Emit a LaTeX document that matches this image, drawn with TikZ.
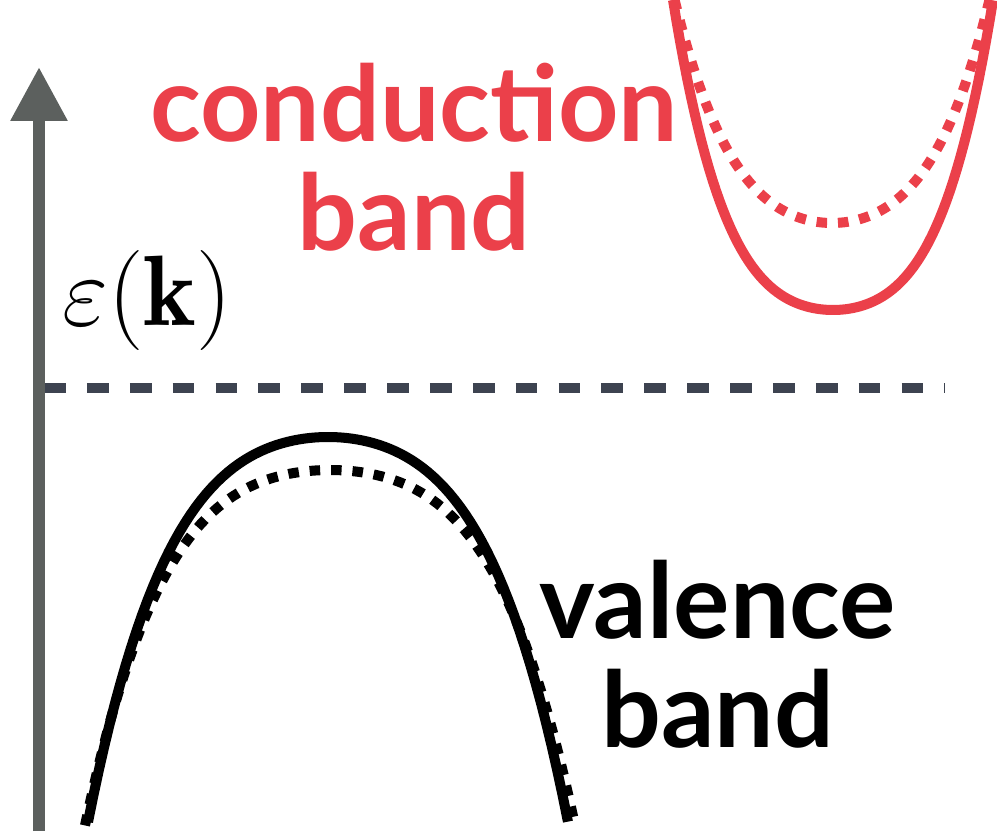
\documentclass[tikz,border=0pt]{standalone}
\usepackage{amsmath,amssymb,bm}
\usepackage{fontspec}
\usepackage{tikz}
\usetikzlibrary{arrows.meta}
\newfontfamily\labelfont{Lato}
\definecolor{BandRed}{RGB}{235,64,74}
\definecolor{AxisGray}{RGB}{92,96,94}
\definecolor{LevelSlate}{RGB}{61,67,80}
\tikzset{
    axisline/.style={line width=3.5pt,AxisGray,-{Triangle[length=5.4mm,width=5.4mm]}},
    levelline/.style={line width=2.85pt,LevelSlate,dash pattern=on 6.2pt off 6pt},
    condsolid/.style={line width=2.85pt,BandRed},
    conddots/.style={line width=2.85pt,BandRed,dash pattern=on 3.0pt off 3.1pt},
    valsolid/.style={line width=2.85pt,black},
    valdots/.style={line width=2.85pt,black,dash pattern=on 3.0pt off 3.1pt},
    bandlabel/.style={font=\labelfont\bfseries\fontsize{30}{31}\selectfont,align=center,inner sep=0pt}
}
\begin{document}
\begin{tikzpicture}
		\useasboundingbox (0,0) rectangle (9.97,8.31);
		% energy axis and gap level
		\coordinate (axbot) at (0.39,0);
		\coordinate (axtop) at (0.39,7.64);
		\coordinate (levl) at (0.44,4.43);
		\coordinate (levr) at (9.45,4.43);
		\draw[levelline] (levl) -- (levr);
		\draw[axisline] (axbot) -- (axtop);
		\node[font=\fontsize{24.88}{30}\selectfont,scale=1.145] (eps) at (1.47,5.31) {$\varepsilon(\mathbf{k})$};
		% conduction band
		\draw[conddots] plot[domain=-1.575:1.575,samples=90] ({8.32+\x},{6.08+0.485*(\x)^2+0.1676*(\x)^4});
		\draw[condsolid] plot[domain=-1.60:1.60,samples=90] ({8.33+\x},{5.21+0.482*(\x)^2+0.2846*(\x)^4});
		\node[bandlabel,BandRed] (cond) at (4.14,6.74) {conduction\\band};
		% valence band
		\draw[valdots] plot[domain=-2.45:2.45,samples=90] ({3.30+\x},{3.61-0.22*(\x)^2-0.062*(\x)^4});
		\draw[valsolid] plot[domain=-2.40:2.40,samples=90] ({3.28+\x},{3.94-0.2836*(\x)^2-0.0668*(\x)^4});
		\node[bandlabel] (val) at (7.175,1.765) {valence\\band};
\end{tikzpicture}
\end{document}
